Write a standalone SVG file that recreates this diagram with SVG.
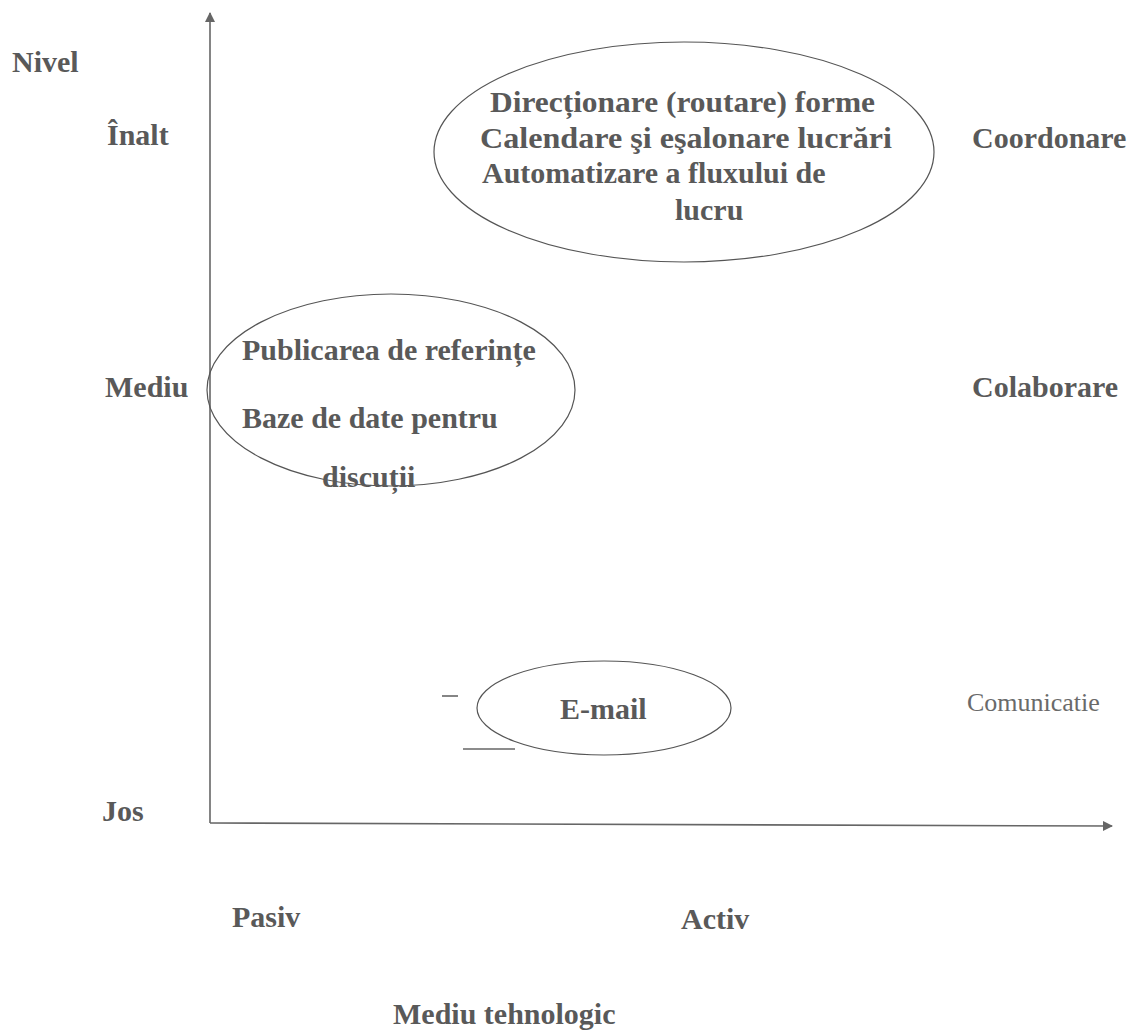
<svg xmlns="http://www.w3.org/2000/svg" width="1137" height="1035" viewBox="0 0 1137 1035">
<defs>
<style>
.t{font-family:"Liberation Serif","Times New Roman",serif;font-weight:bold;font-size:30px;fill:#595959;}
.n{font-family:"Liberation Serif","Times New Roman",serif;font-size:26px;fill:#6a6a6a;}
.ax{stroke:#666;stroke-width:1.6;fill:none;}
.el{stroke:#555;stroke-width:1.2;fill:none;}
</style>
<marker id="ah" viewBox="0 0 10 10" refX="9" refY="5" markerWidth="10" markerHeight="10" markerUnits="userSpaceOnUse" orient="auto">
<path d="M0,0 L10,5 L0,10 Z" fill="#666"/>
</marker>
</defs>
<rect width="1137" height="1035" fill="#fff"/>
<g id="axes">
<line class="ax" x1="210" y1="823" x2="210" y2="13" marker-end="url(#ah)"/>
<line class="ax" x1="210" y1="823" x2="1112" y2="826" marker-end="url(#ah)"/>
<line class="ax" x1="442" y1="696" x2="458" y2="696"/>
<line class="ax" x1="463" y1="749" x2="515" y2="749"/>
</g>
<g id="axis-labels">
<text class="t" x="12" y="72">Nivel</text>
<text class="t" x="107" y="145">Înalt</text>
<text class="t" x="105" y="397">Mediu</text>
<text class="t" x="102" y="821">Jos</text>
<text class="t" x="972" y="148">Coordonare</text>
<text class="t" x="972" y="397">Colaborare</text>
<text class="n" x="967" y="711">Comunicatie</text>
<text class="t" x="232" y="927">Pasiv</text>
<text class="t" x="681" y="929">Activ</text>
<text class="t" x="393" y="1024">Mediu tehnologic</text>
</g>
<g id="coordonare">
<ellipse class="el" cx="684" cy="152" rx="250" ry="110"/>
<text class="t" x="490" y="112" textLength="385" lengthAdjust="spacingAndGlyphs">Direcționare (routare) forme</text>
<text class="t" x="480" y="148" textLength="412" lengthAdjust="spacingAndGlyphs">Calendare şi eşalonare lucrări</text>
<text class="t" x="482" y="183">Automatizare a fluxului de</text>
<text class="t" x="675" y="220">lucru</text>
</g>
<g id="colaborare">
<ellipse class="el" cx="391" cy="390" rx="184" ry="96"/>
<text class="t" x="242" y="360">Publicarea de referințe</text>
<text class="t" x="242" y="428">Baze de date pentru</text>
<text class="t" x="322" y="487">discuții</text>
</g>
<g id="comunicatie">
<ellipse class="el" cx="604" cy="708" rx="127" ry="47"/>
<text class="t" x="560" y="719">E-mail</text>
</g>
</svg>
